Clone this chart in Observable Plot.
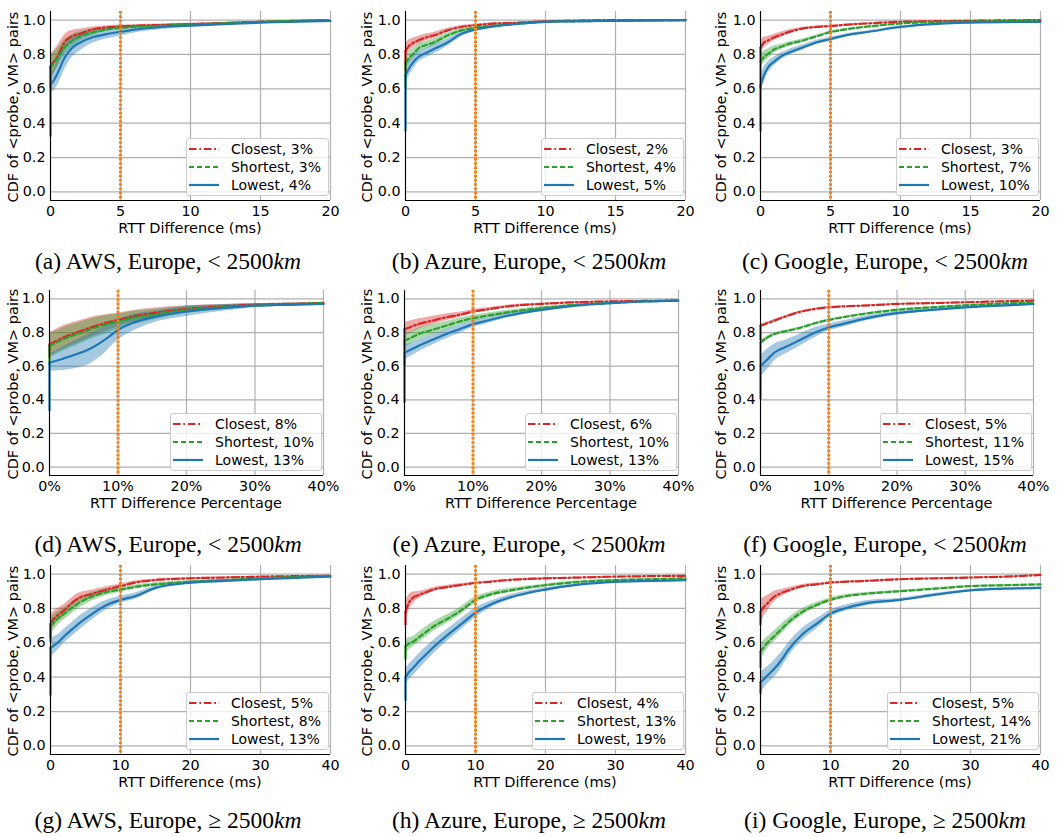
<!DOCTYPE html>
<html>
<head>
<meta charset="utf-8">
<script src="https://cdn.jsdelivr.net/npm/d3@7"></script>
<script src="https://cdn.jsdelivr.net/npm/@observablehq/plot@0.6"></script>
<style>
  body { margin: 0; background: #fff; }
  #fig { position: relative; width: 1062px; height: 837px; background: #fff; font-family: "DejaVu Sans", sans-serif; color: #000; overflow: hidden; }
  .panel { position: absolute; }
  .cap { position: absolute; font-family: "Liberation Serif", serif; font-size: 23.5px; white-space: nowrap; transform: translate(-50%, -50%); line-height: 1; }
  .ylab { position: absolute; font-size: 14.5px; white-space: nowrap; transform: translate(-50%, -50%) rotate(-90deg); line-height: 1; }
  .xlab { position: absolute; font-size: 14.5px; white-space: nowrap; transform: translate(-50%, -50%); line-height: 1; }
  .legend { position: absolute; border: 1px solid #cccccc; border-radius: 3px; background: rgba(255,255,255,0.8); padding: 1px 7px 1px 2px; font-size: 14px; }
  .lrow { display: flex; align-items: center; height: 18px; white-space: nowrap; }
  .lrow svg { margin-right: 12px; display: block; }
</style>
</head>
<body>
<div id="fig"></div>
<script>
// ---------------- data ----------------
const seriesNames = ["Closest", "Shortest", "Lowest"];
const seriesColors = ["#d62728", "#2ca02c", "#1f77b4"];
const seriesDash = ["7.5,2.8,1.8,2.8", "5,3", null];

const yTicks = [0, 0.2, 0.4, 0.6, 0.8, 1.0];
const yDomain = [-0.05, 1.05];
const xTicksNear = [0, 5, 10, 15, 20];
const xTicksPct = [0, 10, 20, 30, 40];
const xTicksFar = [0, 10, 20, 30, 40];
const rowThresholds = [5, 10, 10];
const rowXLabels = ["RTT Difference (ms)", "RTT Difference Percentage", "RTT Difference (ms)"];
const yLabel = "CDF of <probe, VM> pairs";

const xKnotsNear = [0, 0.25, 0.5, 1, 1.5, 2, 3, 4, 5, 6, 8, 10, 12, 15, 20];
const xKnotsPct  = [0, 1, 2, 4, 6, 8, 10, 12, 15, 20, 25, 30, 35, 40];
const xKnotsFar  = [0, 0.5, 1, 2, 3, 4, 6, 8, 10, 12, 15, 20, 25, 30, 35, 40];

// (a) AWS, < 2500km, ms
const a_closest  = [0.73, 0.76, 0.79, 0.87, 0.905, 0.918, 0.945, 0.957, 0.963, 0.967, 0.972, 0.977, 0.982, 0.99, 1.0];
const a_closestB = [0.07, 0.065, 0.06, 0.045, 0.035, 0.028, 0.015, 0.01, 0.008, 0.006, 0.005, 0.004, 0.003, 0.002, 0.001];
const a_shortest = [0.72, 0.75, 0.78, 0.84, 0.875, 0.90, 0.928, 0.945, 0.955, 0.96, 0.967, 0.975, 0.98, 0.99, 1.0];
const a_shortestB= [0.07, 0.065, 0.055, 0.045, 0.035, 0.03, 0.02, 0.012, 0.01, 0.008, 0.006, 0.004, 0.003, 0.002, 0.001];
const a_lowest   = [0.625, 0.65, 0.69, 0.78, 0.835, 0.864, 0.90, 0.918, 0.932, 0.945, 0.96, 0.968, 0.975, 0.985, 0.995];
const a_lowestB  = [0.05, 0.06, 0.07, 0.07, 0.055, 0.05, 0.035, 0.028, 0.025, 0.02, 0.015, 0.01, 0.007, 0.004, 0.002];
const a_base = [0.62, 0.6, 0.32];
const a_pct = [3, 3, 4];

// (b) Azure, < 2500km, ms
const b_closest  = [0.82, 0.85, 0.865, 0.885, 0.90, 0.91, 0.94, 0.96, 0.97, 0.978, 0.985, 0.993, 0.997, 1.0, 1.0];
const b_closestB = [0.04, 0.035, 0.03, 0.022, 0.02, 0.018, 0.012, 0.008, 0.006, 0.004, 0.003, 0.002, 0.001, 0.001, 0.001];
const b_shortest = [0.75, 0.78, 0.80, 0.84, 0.855, 0.87, 0.91, 0.94, 0.955, 0.965, 0.978, 0.99, 0.993, 0.996, 1.0];
const b_shortestB= [0.04, 0.035, 0.03, 0.025, 0.022, 0.02, 0.015, 0.01, 0.008, 0.006, 0.004, 0.003, 0.002, 0.001, 0.001];
const b_lowest   = [0.68, 0.72, 0.75, 0.79, 0.81, 0.83, 0.87, 0.92, 0.945, 0.96, 0.978, 0.99, 0.993, 0.996, 1.0];
const b_lowestB  = [0.05, 0.045, 0.04, 0.03, 0.028, 0.028, 0.022, 0.015, 0.012, 0.01, 0.006, 0.004, 0.003, 0.002, 0.001];
const b_base = [0.7, 0.6, 0.35];
const b_pct = [2, 4, 5];

// (c) Google, < 2500km, ms
const c_closest  = [0.84, 0.87, 0.88, 0.90, 0.915, 0.93, 0.95, 0.96, 0.965, 0.972, 0.982, 0.99, 0.993, 0.996, 1.0];
const c_closestB = [0.04, 0.03, 0.025, 0.018, 0.015, 0.012, 0.008, 0.006, 0.005, 0.004, 0.003, 0.002, 0.002, 0.001, 0.001];
const c_shortest = [0.76, 0.785, 0.80, 0.83, 0.845, 0.86, 0.88, 0.905, 0.93, 0.945, 0.965, 0.98, 0.988, 0.992, 0.995];
const c_shortestB= [0.04, 0.035, 0.03, 0.02, 0.015, 0.012, 0.01, 0.008, 0.006, 0.005, 0.004, 0.003, 0.002, 0.002, 0.001];
const c_lowest   = [0.62, 0.68, 0.72, 0.76, 0.79, 0.81, 0.84, 0.87, 0.89, 0.91, 0.935, 0.96, 0.975, 0.985, 0.99];
const c_lowestB  = [0.05, 0.045, 0.035, 0.025, 0.02, 0.018, 0.015, 0.012, 0.01, 0.008, 0.006, 0.005, 0.004, 0.003, 0.002];
const c_base = [0.75, 0.6, 0.35];
const c_pct = [3, 7, 10];

// (d) AWS, < 2500km, percentage
const d_closest  = [0.73, 0.75, 0.77, 0.80, 0.83, 0.855, 0.875, 0.895, 0.915, 0.94, 0.955, 0.965, 0.97, 0.975];
const d_closestB = [0.07, 0.07, 0.07, 0.065, 0.06, 0.05, 0.04, 0.035, 0.03, 0.02, 0.012, 0.008, 0.006, 0.005];
const d_shortest = [0.72, 0.74, 0.76, 0.79, 0.82, 0.845, 0.865, 0.885, 0.905, 0.935, 0.95, 0.96, 0.968, 0.975];
const d_shortestB= [0.07, 0.07, 0.07, 0.065, 0.06, 0.055, 0.045, 0.04, 0.032, 0.022, 0.014, 0.01, 0.007, 0.005];
const d_lowest   = [0.62, 0.632, 0.645, 0.672, 0.705, 0.755, 0.815, 0.855, 0.89, 0.925, 0.945, 0.96, 0.965, 0.97];
const d_lowestB  = [0.05, 0.06, 0.07, 0.085, 0.09, 0.08, 0.06, 0.05, 0.035, 0.03, 0.02, 0.012, 0.008, 0.006];
const d_base = [0.65, 0.6, 0.33];
const d_pct = [8, 10, 13];

// (e) Azure, < 2500km, percentage
const e_closest  = [0.82, 0.835, 0.85, 0.87, 0.89, 0.905, 0.925, 0.937, 0.955, 0.97, 0.98, 0.985, 0.988, 0.99];
const e_closestB = [0.04, 0.035, 0.03, 0.025, 0.02, 0.015, 0.012, 0.01, 0.008, 0.005, 0.004, 0.003, 0.002, 0.002];
const e_shortest = [0.75, 0.77, 0.79, 0.815, 0.84, 0.865, 0.885, 0.90, 0.92, 0.945, 0.965, 0.975, 0.985, 0.99];
const e_shortestB= [0.04, 0.035, 0.035, 0.03, 0.025, 0.02, 0.018, 0.015, 0.012, 0.008, 0.005, 0.004, 0.003, 0.002];
const e_lowest   = [0.68, 0.70, 0.72, 0.755, 0.79, 0.82, 0.85, 0.87, 0.90, 0.935, 0.96, 0.975, 0.985, 0.99];
const e_lowestB  = [0.045, 0.04, 0.035, 0.03, 0.028, 0.025, 0.02, 0.018, 0.014, 0.01, 0.006, 0.004, 0.003, 0.002];
const e_base = [0.7, 0.6, 0.38];
const e_pct = [6, 10, 13];

// (f) Google, < 2500km, percentage
const f_closest  = [0.84, 0.855, 0.87, 0.90, 0.925, 0.94, 0.95, 0.955, 0.96, 0.97, 0.975, 0.98, 0.985, 0.99];
const f_closestB = [0.01, 0.008, 0.007, 0.006, 0.005, 0.004, 0.004, 0.003, 0.003, 0.002, 0.002, 0.002, 0.001, 0.001];
const f_shortest = [0.74, 0.77, 0.79, 0.81, 0.83, 0.855, 0.875, 0.89, 0.91, 0.935, 0.95, 0.962, 0.972, 0.98];
const f_shortestB= [0.012, 0.01, 0.008, 0.007, 0.006, 0.005, 0.005, 0.004, 0.004, 0.003, 0.003, 0.002, 0.002, 0.002];
const f_lowest   = [0.60, 0.64, 0.68, 0.72, 0.76, 0.80, 0.83, 0.85, 0.88, 0.915, 0.935, 0.95, 0.96, 0.97];
const f_lowestB  = [0.065, 0.06, 0.05, 0.04, 0.035, 0.03, 0.02, 0.018, 0.015, 0.012, 0.01, 0.008, 0.007, 0.006];
const f_base = [0.75, 0.6, 0.4];
const f_pct = [5, 11, 15];

// (g) AWS, >= 2500km, ms
const g_closest  = [0.71, 0.74, 0.76, 0.79, 0.83, 0.86, 0.885, 0.91, 0.93, 0.95, 0.965, 0.975, 0.98, 0.985, 0.988, 0.99];
const g_closestB = [0.045, 0.045, 0.04, 0.035, 0.03, 0.028, 0.022, 0.018, 0.012, 0.01, 0.007, 0.005, 0.004, 0.003, 0.003, 0.002];
const g_shortest = [0.70, 0.72, 0.74, 0.77, 0.80, 0.83, 0.87, 0.895, 0.91, 0.925, 0.94, 0.955, 0.965, 0.975, 0.983, 0.99];
const g_shortestB= [0.045, 0.045, 0.04, 0.035, 0.032, 0.03, 0.025, 0.02, 0.015, 0.012, 0.01, 0.007, 0.005, 0.004, 0.003, 0.002];
const g_lowest   = [0.57, 0.585, 0.60, 0.64, 0.675, 0.71, 0.77, 0.82, 0.85, 0.87, 0.92, 0.95, 0.96, 0.97, 0.978, 0.985];
const g_lowestB  = [0.05, 0.05, 0.045, 0.04, 0.04, 0.04, 0.035, 0.028, 0.02, 0.018, 0.012, 0.008, 0.007, 0.006, 0.005, 0.004];
const g_base = [0.62, 0.6, 0.29];
const g_pct = [5, 8, 13];

// (h) Azure, >= 2500km, ms
const h_closest  = [0.78, 0.835, 0.86, 0.88, 0.895, 0.91, 0.925, 0.937, 0.948, 0.955, 0.966, 0.975, 0.98, 0.985, 0.988, 0.99];
const h_closestB = [0.06, 0.045, 0.035, 0.02, 0.015, 0.012, 0.01, 0.008, 0.006, 0.005, 0.004, 0.003, 0.003, 0.002, 0.002, 0.002];
const h_shortest = [0.58, 0.595, 0.605, 0.635, 0.665, 0.695, 0.74, 0.79, 0.85, 0.88, 0.905, 0.935, 0.955, 0.965, 0.97, 0.975];
const h_shortestB= [0.04, 0.035, 0.03, 0.03, 0.03, 0.028, 0.025, 0.022, 0.018, 0.015, 0.012, 0.008, 0.006, 0.005, 0.004, 0.004];
const h_lowest   = [0.40, 0.43, 0.45, 0.495, 0.535, 0.575, 0.645, 0.71, 0.775, 0.82, 0.865, 0.91, 0.94, 0.955, 0.96, 0.965];
const h_lowestB  = [0.045, 0.045, 0.045, 0.045, 0.042, 0.04, 0.035, 0.032, 0.028, 0.02, 0.015, 0.01, 0.007, 0.005, 0.004, 0.004];
const h_base = [0.7, 0.5, 0.26];
const h_pct = [4, 13, 19];

// (i) Google, >= 2500km, ms
const i_closest  = [0.78, 0.81, 0.83, 0.87, 0.89, 0.905, 0.93, 0.94, 0.95, 0.955, 0.96, 0.97, 0.975, 0.98, 0.985, 0.995];
const i_closestB = [0.07, 0.055, 0.045, 0.03, 0.02, 0.015, 0.01, 0.008, 0.006, 0.005, 0.004, 0.004, 0.003, 0.003, 0.002, 0.002];
const i_shortest = [0.55, 0.575, 0.60, 0.64, 0.68, 0.72, 0.78, 0.82, 0.85, 0.87, 0.885, 0.90, 0.915, 0.93, 0.935, 0.94];
const i_shortestB= [0.045, 0.04, 0.035, 0.03, 0.028, 0.025, 0.02, 0.015, 0.012, 0.01, 0.008, 0.006, 0.005, 0.004, 0.004, 0.004];
const i_lowest   = [0.37, 0.39, 0.41, 0.45, 0.50, 0.56, 0.65, 0.71, 0.77, 0.80, 0.83, 0.85, 0.88, 0.905, 0.915, 0.92];
const i_lowestB  = [0.065, 0.055, 0.05, 0.05, 0.045, 0.04, 0.035, 0.03, 0.02, 0.018, 0.015, 0.01, 0.008, 0.006, 0.005, 0.005];
const i_base = [0.7, 0.45, 0.3];
const i_pct = [5, 14, 21];

const providers = ["AWS", "Azure", "Google"];

const panels = [
  {id: "a", row: 0, col: 0, xs: xKnotsNear, xTicks: xTicksNear, mean: [a_closest, a_shortest, a_lowest], band: [a_closestB, a_shortestB, a_lowestB], base: a_base, pct: a_pct},
  {id: "b", row: 0, col: 1, xs: xKnotsNear, xTicks: xTicksNear, mean: [b_closest, b_shortest, b_lowest], band: [b_closestB, b_shortestB, b_lowestB], base: b_base, pct: b_pct},
  {id: "c", row: 0, col: 2, xs: xKnotsNear, xTicks: xTicksNear, mean: [c_closest, c_shortest, c_lowest], band: [c_closestB, c_shortestB, c_lowestB], base: c_base, pct: c_pct},
  {id: "d", row: 1, col: 0, xs: xKnotsPct, xTicks: xTicksPct, mean: [d_closest, d_shortest, d_lowest], band: [d_closestB, d_shortestB, d_lowestB], base: d_base, pct: d_pct},
  {id: "e", row: 1, col: 1, xs: xKnotsPct, xTicks: xTicksPct, mean: [e_closest, e_shortest, e_lowest], band: [e_closestB, e_shortestB, e_lowestB], base: e_base, pct: e_pct},
  {id: "f", row: 1, col: 2, xs: xKnotsPct, xTicks: xTicksPct, mean: [f_closest, f_shortest, f_lowest], band: [f_closestB, f_shortestB, f_lowestB], base: f_base, pct: f_pct},
  {id: "g", row: 2, col: 0, xs: xKnotsFar, xTicks: xTicksFar, mean: [g_closest, g_shortest, g_lowest], band: [g_closestB, g_shortestB, g_lowestB], base: g_base, pct: g_pct},
  {id: "h", row: 2, col: 1, xs: xKnotsFar, xTicks: xTicksFar, mean: [h_closest, h_shortest, h_lowest], band: [h_closestB, h_shortestB, h_lowestB], base: h_base, pct: h_pct},
  {id: "i", row: 2, col: 2, xs: xKnotsFar, xTicks: xTicksFar, mean: [i_closest, i_shortest, i_lowest], band: [i_closestB, i_shortestB, i_lowestB], base: i_base, pct: i_pct}
];

// ---------------- layout ----------------
const FIG_W = 1062, FIG_H = 837;
const colLeft = [0, 354, 708];
const frameXs = [
  [[50, 330], [405, 685], [760, 1040]],
  [[49, 323], [404, 678], [760, 1033]],
  [[50, 330], [405, 685], [760, 1040]]
];
const frameYs = [[11, 200], [290, 475], [565, 754]];
const capY = [262, 545, 821];
const capX = [168, 529, 885];

const fig = document.getElementById("fig");

for (const p of panels) {
  const [x0, x1] = frameXs[p.row][p.col];
  const [fy0, fy1] = frameYs[p.row];
  const left = colLeft[p.col];
  const W = 354, mt = 10, mb = 24;
  const H = fy1 - fy0 + mt + mb;
  const xDomain = [p.xTicks[0], p.xTicks[p.xTicks.length - 1]];
  const isPct = p.row === 1;

  const marks = [];
  // grid
  marks.push(Plot.ruleY(yTicks, {stroke: "#b0b0b0", strokeWidth: 1.2}));
  marks.push(Plot.ruleX(p.xTicks, {stroke: "#b0b0b0", strokeWidth: 1.2}));

  // bands
  p.mean.forEach((vals, s) => {
    const rows = p.xs.map((x, k) => ({x, lo: Math.max(0, vals[k] - p.band[s][k]), hi: Math.min(1, vals[k] + p.band[s][k])}));
    marks.push(Plot.areaY(rows, {x: "x", y1: "lo", y2: "hi", fill: seriesColors[s], fillOpacity: 0.4, curve: "monotone-x"}));
  });
  // lines
  p.mean.forEach((vals, s) => {
    const rows = p.xs.map((x, k) => ({x, y: vals[k]}));
    const opts = {stroke: seriesColors[s], strokeWidth: 2.2};
    if (seriesDash[s]) opts.strokeDasharray = seriesDash[s];
    marks.push(Plot.ruleX([{x: p.xs[0], y1: p.base[s], y2: vals[0]}], {x: "x", y1: "y1", y2: "y2", stroke: seriesColors[s], strokeWidth: 2.2}));
    marks.push(Plot.lineY(rows, {x: "x", y: "y", curve: "monotone-x", ...opts}));
  });
  // threshold
  marks.push(Plot.ruleX([rowThresholds[p.row]], {stroke: "#ff7f0e", strokeWidth: 3, strokeDasharray: "2.6,1.6"}));
  // spines
  marks.push(Plot.ruleX([xDomain[0]], {stroke: "#000", strokeWidth: 1.1}));
  marks.push(Plot.ruleY([yDomain[0]], {stroke: "#000", strokeWidth: 1.1}));

  const svg = Plot.plot({
    width: W, height: H,
    marginLeft: x0 - left, marginRight: left + W - x1, marginTop: mt, marginBottom: mb,
    style: {fontFamily: "DejaVu Sans", fontSize: "14.3px", color: "#000", background: "transparent", overflow: "visible"},
    x: {domain: xDomain, ticks: p.xTicks, tickFormat: isPct ? (d => d + "%") : (d => String(d)), tickSize: 0, tickPadding: 5.5, label: null},
    y: {domain: yDomain, ticks: yTicks, tickFormat: d3.format(".1f"), tickSize: 0, tickPadding: 5, label: null},
    marks
  });
  const wrap = document.createElement("div");
  wrap.className = "panel";
  wrap.style.left = left + "px";
  wrap.style.top = (fy0 - mt) + "px";
  wrap.appendChild(svg);
  fig.appendChild(wrap);

  // y label
  const yl = document.createElement("div");
  yl.className = "ylab";
  yl.textContent = yLabel;
  yl.style.left = (left + 13) + "px";
  yl.style.top = ((fy0 + fy1) / 2 + 1) + "px";
  fig.appendChild(yl);

  // x label
  const xl = document.createElement("div");
  xl.className = "xlab";
  xl.textContent = rowXLabels[p.row];
  xl.style.left = ((x0 + x1) / 2) + "px";
  xl.style.top = (fy1 + 28) + "px";
  fig.appendChild(xl);

  // legend
  const lg = document.createElement("div");
  lg.className = "legend";
  lg.style.right = (FIG_W - x1 + 1) + "px";
  lg.style.bottom = (FIG_H - fy1 + 4) + "px";
  seriesNames.forEach((name, s) => {
    const r = document.createElement("div");
    r.className = "lrow";
    const dash = seriesDash[s] ? ` stroke-dasharray="${seriesDash[s]}"` : "";
    r.innerHTML = `<svg width="30" height="18"><line x1="0" x2="30" y1="9" y2="9" stroke="${seriesColors[s]}" stroke-width="2.2"${dash}/></svg><span>${name}, ${p.pct[s]}%</span>`;
    lg.appendChild(r);
  });
  fig.appendChild(lg);

  // caption
  const cap = document.createElement("div");
  cap.className = "cap";
  const rel = p.row === 2 ? "≥" : "&lt;";
  cap.innerHTML = `(${p.id}) ${providers[p.col]}, Europe, ${rel} 2500<i>km</i>`;
  cap.style.left = capX[p.col] + "px";
  cap.style.top = capY[p.row] + "px";
  fig.appendChild(cap);
}
</script>
</body>
</html>
